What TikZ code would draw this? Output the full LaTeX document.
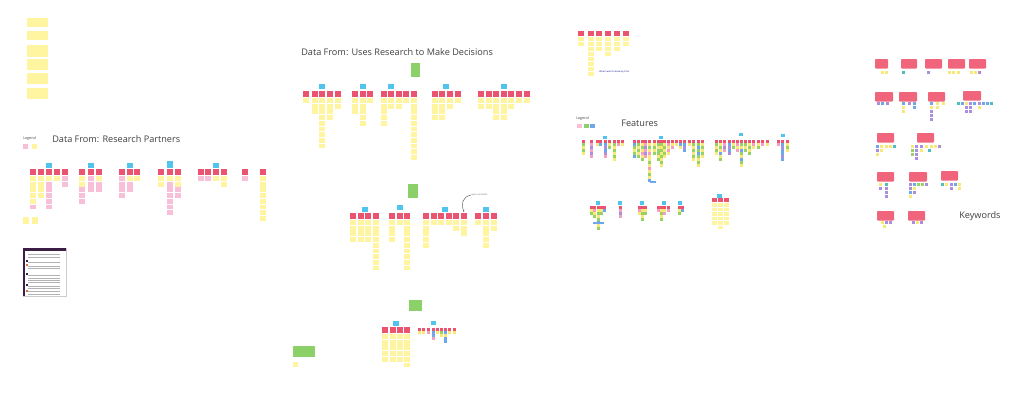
\documentclass[tikz,border=0pt]{standalone}
\usepackage{fontspec}
\setmainfont{Open Sans}
\usetikzlibrary{arrows.meta}
\definecolor{hdrcol}{RGB}{234,84,112}
\definecolor{kwcol}{RGB}{240,100,124}
\definecolor{yelcol}{RGB}{255,245,160}
\definecolor{pinkcol}{RGB}{248,192,216}
\definecolor{bluecol}{RGB}{80,196,236}
\definecolor{greencol}{RGB}{140,208,106}
\definecolor{fy}{RGB}{248,232,120}
\definecolor{fg}{RGB}{150,210,100}
\definecolor{fp}{RGB}{245,160,192}
\definecolor{fb}{RGB}{110,168,232}
\definecolor{fv}{RGB}{172,142,222}
\definecolor{ft}{RGB}{80,190,190}
\definecolor{scrdark}{RGB}{58,30,70}
\definecolor{scrorange}{RGB}{226,110,70}

% sizes of one column of notes, changed per board area
\newcommand{\stw}{6.2}
\newcommand{\sthd}{6}
\newcommand{\sth}{4.8}
\newcommand{\stp}{5.7}
% x, header top, yellow notes, pink notes
\newcommand{\stickycol}[4]{%
  \fill[hdr] (#1,#2) rectangle ++(\stw,\sthd);
  \pgfmathtruncatemacro{\stn}{#3+#4}%
  \ifnum\stn>0
    \foreach \k in {1,...,\stn}{%
      \ifnum\k>#3 \def\stc{pinkcol}\else\def\stc{yelcol}\fi
      \fill[fill=\stc] (#1,#2+\sthd+1-\stp+\stp*\k) rectangle ++(\stw,\sth);
    }%
  \fi}
% x, header top, colours of the small notes
\newcommand{\tinycol}[3]{%
  \fill[hdr] (#1,#2) rectangle ++(3,2.6);
  \foreach \c [count=\k] in #3 {\fill[fill=\c] (#1,#2+3*\k+0.3) rectangle ++(3,2.4);}}

\begin{document}
\begin{tikzpicture}[
  x=0.025cm, y=-0.025cm,
  hdr/.style={fill=hdrcol},
  blue/.style={fill=bluecol},
  green/.style={fill=greencol},
  kw/.style={fill=kwcol, rounded corners=0.6pt},
  title/.style={font=\fontsize{6.5}{7.5}\selectfont, text=black!75, inner sep=0, anchor=west},
  legend/.style={font=\fontsize{2.6}{3}\selectfont, text=black!75, inner sep=0, anchor=west},
  tiny/.style={font=\fontsize{1.6}{2}\selectfont, inner sep=0, anchor=west}
]
  \useasboundingbox (0,0) rectangle (1024,410);
  \fill[white] (0,0) rectangle (1024,410);

  % top left notes
  \foreach \ty/\th in {18/9, 31/9, 45/12, 59/11, 73/11, 88/11}
    \fill[yelcol] (27,\ty) rectangle ++(21,\th);

  % Research Partners
  \node[legend] (lgdpartners) at (23,139) {Legend};
  \fill[pinkcol] (23,144) rectangle ++(5,5);
  \fill[yelcol] (32,144) rectangle ++(5,5);
  \node[title] (ttlpartners) at (52,139) {Data From: Research Partners};
  \foreach \cx/\cy/\cp in {30/5/1, 38/4/0, 46/1/5, 54/1/0, 62/0/2, 79/2/3, 88/0/3,
      96/1/2, 119/0/4, 127/1/2, 134/1/0, 158/2/0, 167/1/6, 175/2/2, 198/0/1,
      205/0/1, 213/1/0, 221/2/0, 242/0/1, 260/8/0}
    {\stickycol{\cx}{169}{\cy}{\cp}}
  \foreach \bx in {46, 88, 127, 213}
    \fill[blue] (\bx,163) rectangle ++(6.2,5);
  \fill[blue] (167,161) rectangle ++(6.2,7);
  \fill[yelcol] (23,217) rectangle ++(6,7);
  \fill[yelcol] (32,217) rectangle ++(6,7);

  % screenshot
  \fill[white, draw=black!20, line width=0.2pt] (23,248) rectangle (66,296);
  \fill[scrdark] (23,248) rectangle (66,251);
  \fill[scrdark] (23,248) rectangle (24.5,296);
  \foreach \ly in {254, 257, 262, 266, 268, 275, 278, 280, 282, 286, 288, 291, 294}
    \draw[black!30, line width=0.3pt] (28,\ly) -- (60,\ly);
  \foreach \my/\mc in {260/scrdark, 264/scrorange, 273/scrdark, 284/scrdark, 290/scrorange}
    \fill[fill=\mc] (26,\my) rectangle ++(2,2);

  % Uses Research to Make Decisions
  \node[title] (ttldecisions) at (301,52) {Data From: Uses Research to Make Decisions};
  \fill[green] (411,63) rectangle (420,77);
  \foreach \cx/\cy in {303/1, 312/3, 319/9, 327/4, 335/2, 352/3, 360/5, 367/1,
      381/5, 388/2, 396/2, 403/1, 411/11, 432/4, 439/4, 447/2, 455/1, 478/2,
      486/2, 493/4, 501/4, 508/2, 516/1, 524/1}
    {\stickycol{\cx}{91}{\cy}{0}}
  \foreach \bx in {319, 360, 388, 443, 501}
    \fill[blue] (\bx,84) rectangle ++(6.2,5);

  \fill[green] (408,184) rectangle (418,198);
  \foreach \cx/\cy in {350/4, 358/4, 365/4, 373/9, 389/4, 397/1, 404/9, 423/5,
      431/1, 438/1, 446/1, 453/2, 461/3, 475/1, 483/5, 491/2}
    {\stickycol{\cx}{213}{\cy}{0}}
  \foreach \bx/\by in {362/207, 397/205, 442/207, 483/207}
    \fill[blue] (\bx,\by) rectangle ++(6.2,5);
  \node[tiny, text=black!60] (cmt) at (471,195) {open comment};
  \coordinate (cmthdr) at (464,212);
  \draw[black!70, line width=0.3pt, -{Stealth[length=1.2pt]}]
    (cmt.west) .. controls (462,197) and (461,204) .. (cmthdr);

  \fill[green] (409,300) rectangle (422,311);
  \foreach \cx/\cy in {382/5, 390/5, 397/5, 404/6}
    {\stickycol{\cx}{327}{\cy}{0}}
  \fill[blue] (393,321) rectangle ++(6,5);
  \fill[blue] (431,321) rectangle ++(5,4);
  \foreach \cx/\cl in {418/{fy}, 422/{fy}, 427/{fp}, 432/{fb,fb,fp}, 436/{fy},
      440/{fg,fy}, 444/{fb,fy,fb,fb}, 448/{fy}, 453/{fy}}
    {\tinycol{\cx}{328}{\cl}}
  \fill[greencol] (293,346) rectangle (315,357);
  \fill[yelcol] (293,362) rectangle ++(5,5);

  % Features
  \renewcommand{\stw}{5.5}\renewcommand{\sthd}{5}
  \renewcommand{\sth}{4.2}\renewcommand{\stp}{5}
  \foreach \cx/\cy in {578/2, 588/8, 596/3, 605/4, 614/3, 623/2}
    {\stickycol{\cx}{31}{\cy}{0}}
  \node[tiny, text=blue!50!black] (wantnote) at (599,72) {What I want to know by Firm};

  \node[legend] (lgdfeatures) at (576,119) {Legend};
  \fill[pinkcol] (577,124) rectangle ++(5,4);
  \fill[greencol] (583.5,124) rectangle ++(5,4);
  \fill[fb] (590,124) rectangle ++(5,4);
  \node[title] (ttlfeatures) at (621,123) {Features};

  \foreach \cx/\cl in {582/{fg,fy,fg,fy}, 590/{fp,fv,fp,fv,fp}, 596/{fy},
      599/{fb}, 604/{fb,fv,fb,fv,fp}, 608/{fy,fg}, 613/{fg,fy,fg,fy,fg,fy},
      617/{fp}, 621/{fy},
      633/{fb,fg,fy,fg,fb}, 637/{fg,fy,fg,fy,fg}, 641/{fy,fg,fy,fp,fy,fg},
      644/{fp,fv,fp,fv,fp}, 648/{fy,fg,fy,fp,fy,fy,fg,fy,fp,fy,fg,fy,fb},
      653/{fy,fg,fy,fg}, 657/{fg,fy,fg,fg,fy,fg}, 660/{fg,fy,fg,fy,fg,fy,fg,fy},
      663/{fy,fg,fy,fg,fy}, 667/{fp,fy,fp,fy}, 671/{fy,fp}, 675/{fy}, 679/{fb,fy},
      683/{fb,fv,fb}, 688/{fy}, 692/{fg,fy,fg,fy,fg,fy},
      697/{fg,fb,fg,fb,fg,fy,fg,fy}, 701/{fy,fg,fy,fg,fy},
      715/{fg,fy,fg,fy}, 719/{fy,fg,fy,fb,fy,fg}, 723/{fp,fv,fp},
      728/{fb,fv,fb,fv}, 732/{fy,fg}, 736/{fp,fy,fp},
      740/{fg,fy,fb,fg,fy,fb,fg,fy}, 744/{fg,fy,fg}, 748/{fy,fg,fy,fg},
      752/{fp,fy}, 757/{fy,fg}, 761/{fp}, 766/{fy},
      777/{fp}, 781/{fb,fv,fb,fb,fv,fb}, 786/{fy,fg,fy}}
    {\tinycol{\cx}{140}{\cl}}
  \fill[fb] (650,181) rectangle ++(6,2);
  \foreach \bx/\by in {603/136, 659/136, 739/133, 781/134}
    \fill[blue] (\bx,\by) rectangle ++(4,3);

  \foreach \cx/\cl in {590/{fy,fg}, 593/{fp,fy,fg}, 597/{fy,fg,fy,fg,fb,fy,fg},
      600/{fy,fg}, 603/{fb}, 619/{fp,fv,fp}, 638/{fp,fy}, 641/{fy,fg,fy,fg},
      644/{fy,fg}, 657/{fp}, 660/{fy,fg,fy,fg}, 663/{fy,fp}, 667/{fp},
      678/{fy,fg}, 681/{fb}}
    {\tinycol{\cx}{206}{\cl}}
  \fill[fb] (593,222) rectangle (604,224);
  \foreach \bx in {596, 618, 640, 662, 678}
    \fill[blue] (\bx,201) rectangle ++(4,3.5);
  \renewcommand{\stw}{5}\renewcommand{\sthd}{4}
  \renewcommand{\sth}{3.8}\renewcommand{\stp}{4.5}
  \foreach \cx/\cy in {712/5, 718/6, 724/5}
    {\stickycol{\cx}{198}{\cy}{0}}
  \fill[blue] (717,194) rectangle ++(5,4);

  % Keywords
  \foreach \kx/\ky/\kw in {875/59/13, 901/59/16, 925/59/17, 948/59/17, 969/59/17,
      875/92/18, 899/92/18, 928/92/17, 963/91/18,
      877/133/17, 917/133/17,
      877/172/17, 909/172/18, 941/171/17,
      877/211/17, 908/211/17}
    \fill[kw] (\kx,\ky) rectangle ++(\kw,9.5);
  \foreach \sx/\sy/\sc in {881/71/fy, 885/71/fy, 902/71/ft, 927/71/fv,
      948/71/fy, 952/71/fy, 957/71/fy, 970/71/fy, 974/71/fy, 978/71/fv,
      877/102/fv, 881/102/fb, 886/102/fv,
      902/102/fb, 902/106/fy, 902/110/fy, 908/102/fv, 913/102/fb, 913/106/fb,
      930/102/fb, 930/106/fy, 930/110/fv, 930/114/fv, 930/118/fv, 936/102/fy,
      936/106/fy, 942/102/fy,
      957/102/ft, 961/102/fb, 965/102/fy, 969/102/fv, 973/102/fb, 978/102/fv,
      982/102/fb, 986/102/fb, 990/102/ft, 965/106/fv, 969/106/fv, 978/106/fy,
      965/110/fv, 969/110/fv,
      876/145/fb, 880/145/fy, 885/145/fy, 889/145/fy, 893/145/ft,
      876/149/fv, 880/149/fy, 876/153/fy,
      911/145/fy, 915/145/fv, 920/145/fv, 925/145/fy, 930/145/fy, 934/145/fy,
      938/145/fv, 911/149/fg, 915/149/fv, 920/149/fy, 928/149/ft,
      911/153/fg, 915/153/fv, 915/157/fv,
      879/183/fy, 885/183/ft, 879/187/fv, 885/187/fv, 885/191/fv, 885/195/fv,
      909/183/fv, 913/183/fb, 917/183/fg, 921/183/fg, 925/183/fv,
      909/187/fv, 913/187/fy, 909/191/fb, 913/191/fv, 909/195/fy,
      941/183/ft, 945/183/fy, 950/183/fv, 954/183/fb, 958/183/fy,
      950/187/fv, 958/187/fy,
      881/221/fy, 885/221/fv, 889/221/fv, 883/225/fy,
      912/221/fv, 916/221/fy, 920/221/fv}
    \fill[fill=\sc] (\sx,\sy) rectangle ++(3,3);
  \node[title] (ttlkeywords) at (959,216) {Keywords};
\end{tikzpicture}
\end{document}
